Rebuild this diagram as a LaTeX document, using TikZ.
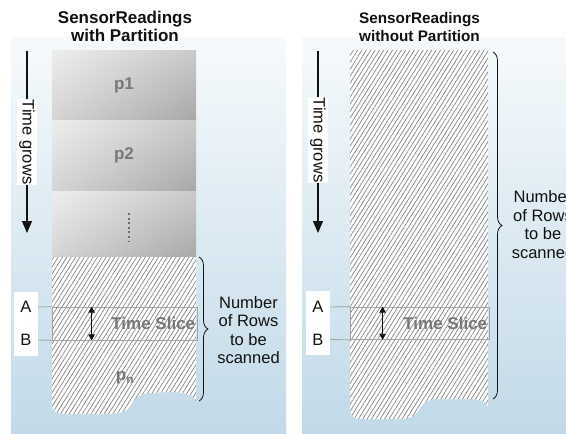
\documentclass[tikz,border=0pt]{standalone}
\usepackage{fontspec}
\setmainfont{Liberation Sans}
\usetikzlibrary{arrows.meta,patterns.meta,decorations.pathreplacing,calc,shadings}
\definecolor{srink}{HTML}{111111}
\definecolor{srsky}{HTML}{F6FAFC}
\definecolor{srsea}{HTML}{C1D9E8}
\definecolor{srhatch}{HTML}{7E7E7E}
\definecolor{srgray}{HTML}{787878}
\definecolor{srline}{HTML}{A2A2A2}
\definecolor{srdot}{HTML}{6C6C6C}
\definecolor{srpartUL}{HTML}{EEEEEE}
\definecolor{srpartUR}{HTML}{CACACA}
\definecolor{srpartLL}{HTML}{D4D4D4}
\definecolor{srpartLR}{HTML}{A8A8A8}
\tikzset{
  panel/.style={top color=srsky,bottom color=srsea},
  part/.style={rectangle,minimum width=144pt,inner sep=0pt,
               upper left=srpartUL,upper right=srpartUR,
               lower left=srpartLL,lower right=srpartLR},
  partname/.style={font=\fontsize{17}{20}\selectfont\bfseries,text=srgray,inner sep=1pt},
  rows/.style={fill=white,postaction={pattern={Lines[angle=58,distance=3.7pt,line width=0.65pt]},
               pattern color=srhatch}},
  slicebox/.style={rectangle,draw=srline,line width=0.8pt,inner sep=0pt},
  slice/.style={draw=srline,line width=0.8pt},
  tags/.style={rectangle,fill=white,minimum width=24pt,minimum height=64pt,inner sep=0pt},
  tag/.style={font=\fontsize{16.5}{19}\selectfont,text=srink,inner sep=0pt},
  grows/.style={-{Triangle[length=12pt,width=10pt]},line width=1.1pt,draw=srink},
  span/.style={{Triangle[length=6pt,width=6.5pt]}-{Triangle[length=6pt,width=6.5pt]},
               line width=0.8pt,draw=srink},
  brc/.style={decorate,decoration={brace,amplitude=9pt},line width=0.8pt,draw=srink},
  scan/.style={align=center,font=\fontsize{16.5}{18.5}\selectfont,text=srink},
  title/.style={align=center,text=srink},
}

\begin{document}
\begin{tikzpicture}[x=1pt,y=-1pt]
  \useasboundingbox (0,0) rectangle (566,434);
  \shade[panel] (11,37) rectangle (286,434);
  \shade[panel] (302,37) rectangle (566,434);

  \node[title,font=\fontsize{17}{18.4}\selectfont\bfseries] (headL) at (125,26.5) {SensorReadings\\with Partition};
  \node[title,font=\fontsize{15.3}{17.8}\selectfont\bfseries] (headR) at (419.5,27) {SensorReadings\\without Partition};

  % partitioned table
  \node[part,minimum height=70pt] (p1) at (124,85) {};
  \node[part,minimum height=71pt] (p2) at (124,155.5) {};
  \node[part,minimum height=66pt] (p3) at (124,224) {};
  \node[partname] at (p1.center) {p1};
  \node[partname] at (p2.center) {p2};
  \draw[srdot,line width=2pt,dash pattern=on 2pt off 2.6pt]
        ($(p3.center)+(5,-11)$) -- ($(p3.center)+(5,17)$);
  \path[rows] (52,257) -- (196,257) -- (196,402)
        .. controls (195,396) and (190,393) .. (170,392) -- (150,393)
        .. controls (138,394) and (135,398) .. (131,405)
        .. controls (127,412) and (120,414) .. (105,414) -- (65,414)
        .. controls (55,414) and (52,410) .. (52,404) -- cycle;
  \node[partname] (pn) at (125,378) {p\textsubscript{n}};

  % single table
  \path[rows] (350,50) -- (488,50) -- (488,408)
        .. controls (487,401) and (482,399) .. (465,399) -- (440,399)
        .. controls (428,399) and (424,402) .. (420,408)
        .. controls (417,414) and (412,419) .. (400,419) -- (362,419)
        .. controls (353,419) and (350,415) .. (350,408) -- cycle;

  \coordinate (gL0) at (27,51);
  \coordinate (gL1) at (27,233);
  \draw[grows] (gL0) -- (gL1);
  \node[tag,fill=white,rotate=-90,inner xsep=1pt,inner ysep=2pt] (gLtxt) at (27,142) {Time grows};
  \coordinate (gR0) at (318,51);
  \coordinate (gR1) at (318,233);
  \draw[grows] (gR0) -- (gR1);
  \node[tag,fill=white,rotate=-90,inner xsep=1pt,inner ysep=2pt] (gRtxt) at (318,140) {Time grows};

  \node[slicebox,minimum width=145pt,minimum height=33pt] (sliceL) at (124.5,323.5) {};
  \node[tags] (tagsL) at (26,324) {};
  \node[tag] (labLA) at (26,307) {A};
  \node[tag] (labLB) at (26,340) {B};
  \draw[slice] (tagsL.east |- labLA) -- (sliceL.north west);
  \draw[slice] (tagsL.east |- labLB) -- (sliceL.south west);
  \draw[span] ($(sliceL.north west)+(40,0)$) -- ($(sliceL.south west)+(40,0)$);
  \node[partname,anchor=east] (tsL) at ($(sliceL.east)+(-1,0)$) {Time Slice};

  \node[slicebox,minimum width=139pt,minimum height=32.5pt] (sliceR) at (419.5,323.25) {};
  \node[tags] (tagsR) at (318,323) {};
  \node[tag] (labRA) at (318,307) {A};
  \node[tag] (labRB) at (318,339.5) {B};
  \draw[slice] (tagsR.east |- labRA) -- (sliceR.north west);
  \draw[slice] (tagsR.east |- labRB) -- (sliceR.south west);
  \draw[span] ($(sliceR.north west)+(33,0)$) -- ($(sliceR.south west)+(33,0)$);
  \node[partname,anchor=east] (tsR) at ($(sliceR.east)+(-1,0)$) {Time Slice};

  \coordinate (bL0) at (199,257);
  \coordinate (bL1) at (199,401);
  \draw[brc] (bL0) -- (bL1);
  \node[scan] (scanL) at (248.5,330) {Number\\of Rows\\to be\\scanned};
  \coordinate (bR0) at (493,52);
  \coordinate (bR1) at (493,399);
  \draw[brc] (bR0) -- (bR1);
  \node[scan] (scanR) at (543,224.7) {Number\\of Rows\\to be\\scanned};
\end{tikzpicture}
\end{document}
